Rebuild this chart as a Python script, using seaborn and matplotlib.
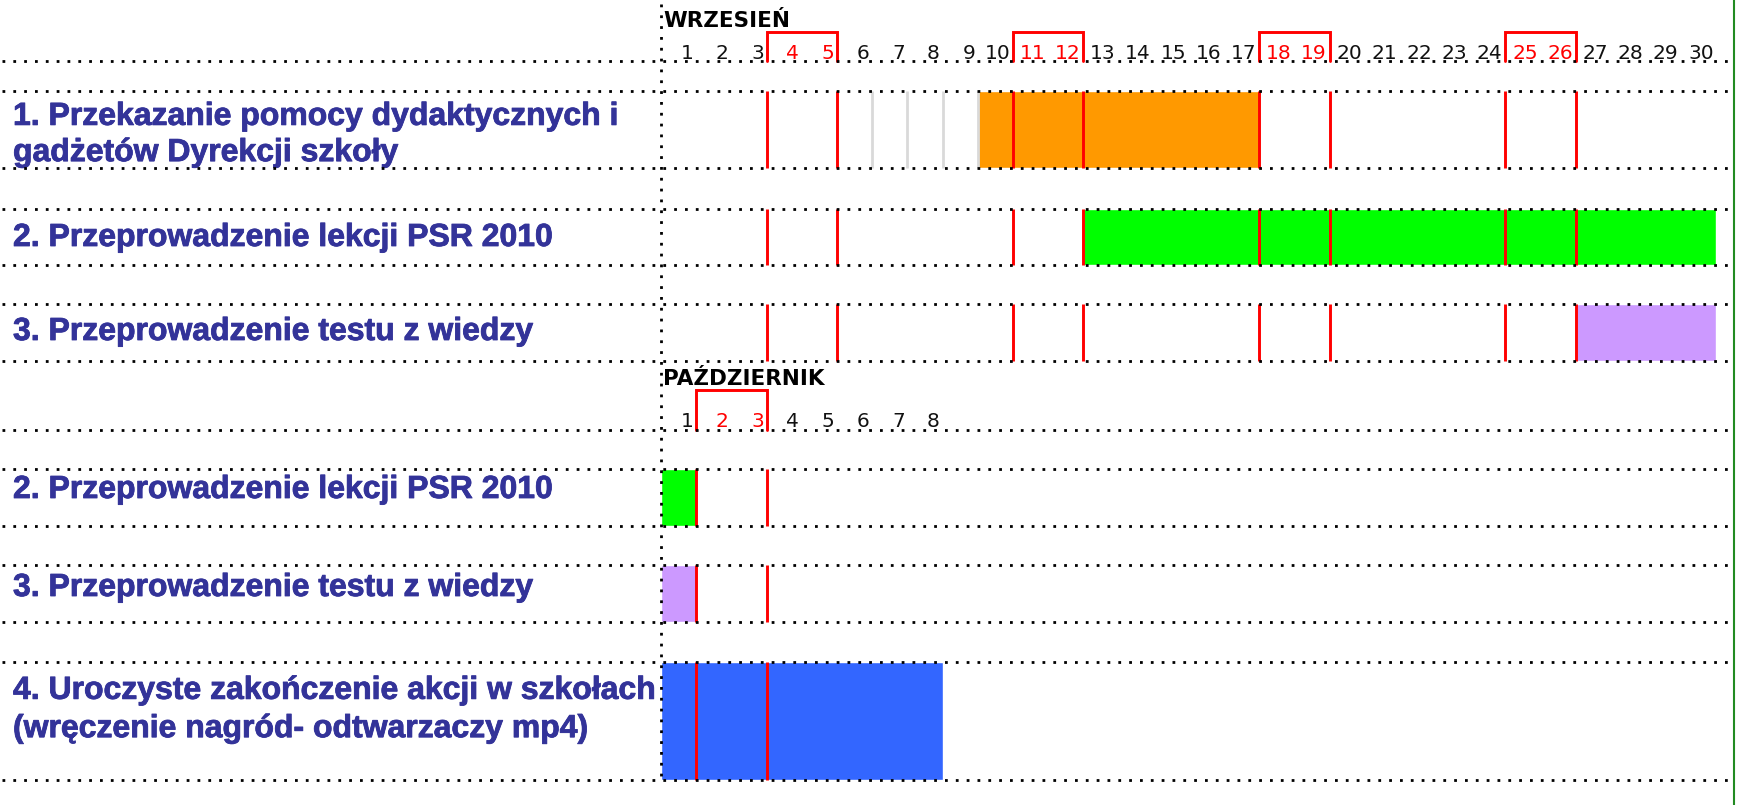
import numpy as np
import pandas as pd
from matplotlib import pyplot as plt
from matplotlib import patheffects
import seaborn as sns

# --- data ---
sept_days = list(range(1, 31))
sept_weekend = [4, 5, 11, 12, 18, 19, 25, 26]
oct_days = list(range(1, 9))
oct_weekend = [2, 3]

task_labels = [
    "1. Przekazanie pomocy dydaktycznych i\ngadżetów Dyrekcji szkoły",
    "2. Przeprowadzenie lekcji PSR 2010",
    "3. Przeprowadzenie testu z wiedzy",
    "2. Przeprowadzenie lekcji PSR 2010",
    "3. Przeprowadzenie testu z wiedzy",
    "4. Uroczyste zakończenie akcji w szkołach\n(wręczenie nagród- odtwarzaczy mp4)",
]
task_month = ["IX", "IX", "IX", "X", "X", "X"]
task_start = [10, 13, 27, 1, 1, 1]
task_end = [17, 30, 30, 1, 1, 8]
task_colors = ["#FF9900", "#00FF00", "#CC99FF", "#00FF00", "#CC99FF", "#3366FF"]
row1_grey_days = [6, 7, 8, 9]

# --- layout (pixels of the 1738x805 picture) ---
W, H = 1738, 805
X0 = 661.3      # left edge of day 1
DAY = 35.17     # width of one day
row_top = [91, 209, 304, 469, 565, 662]
row_bot = [168, 265, 361, 526, 622, 780]
label_y = [135, 238, 332, 490, 588, 710]
label_spacing = [1.27, 1.2, 1.2, 1.2, 1.2, 1.36]
dot_rows = [61, 91, 168, 209, 265, 304, 361, 430, 469, 526, 565, 622, 662, 780]
months = {
    "IX": dict(title="WRZESIEŃ", days=sept_days, weekend=sept_weekend,
               title_y=21, bracket_top=32, num_y=59, line_y=61),
    "X": dict(title="PAŹDZIERNIK", days=oct_days, weekend=oct_weekend,
              title_y=379, bracket_top=390, num_y=427, line_y=430),
}
RED = "#FF0000"
LABEL_BLUE = "#333399"


def px(x):
    return (x - X0) / DAY


def weekend_edges(weekend):
    edges = []
    for a, b in zip(weekend[::2], weekend[1::2]):
        edges += [a - 1, b]
    return edges


sns.set_theme(style="white")
plt.rcParams["font.family"] = ["DejaVu Sans"]

df = pd.DataFrame({
    "label": task_labels, "month": task_month,
    "start": task_start, "end": task_end, "color": task_colors,
    "top": row_top, "bot": row_bot,
})

fig = plt.figure(figsize=(W / 100, H / 100), dpi=100)
ax = fig.add_axes([0, 0, 1, 1])
ax.set_xlim(px(0), px(W))
ax.set_ylim(H, 0)
ax.axis("off")

# task bars
ax.barh(y=(df["top"] + df["bot"]) / 2, width=df["end"] - df["start"] + 1,
        left=df["start"] - 1, height=df["bot"] - df["top"],
        color=df["color"], zorder=1)

# light grey day separators in the first row
ax.vlines(row1_grey_days, row_top[0], row_bot[0], colors="#D9D9D9", lw=2, zorder=2)

# weekend red lines inside rows
for _, r in df.iterrows():
    edges = weekend_edges(months[r["month"]]["weekend"])
    ax.vlines(edges, r["top"], r["bot"], colors=RED, lw=2.1, zorder=3)

# labels on the left
bold_fx = [patheffects.withStroke(linewidth=0.6, foreground=LABEL_BLUE)]
for i, r in df.iterrows():
    ax.text(px(13), label_y[i], r["label"], color=LABEL_BLUE, fontsize=23,
            fontweight="bold", family=["Liberation Sans", "DejaVu Sans"],
            ha="left", va="center", linespacing=label_spacing[i],
            path_effects=bold_fx)

# month headers
for m in months.values():
    ax.text(px(663), m["title_y"], m["title"], fontsize=15.5, fontweight="bold",
            color="black", ha="left", va="center")
    for d in m["days"]:
        ax.text(d - 0.08, m["num_y"], str(d), fontsize=14.5, ha="right",
                va="baseline", color=RED if d in m["weekend"] else "#111111")
    for a, b in zip(m["weekend"][::2], m["weekend"][1::2]):
        ax.plot([a - 1, a - 1, b, b],
                [m["line_y"], m["bracket_top"], m["bracket_top"], m["line_y"]],
                color=RED, lw=2.1, solid_joinstyle="miter", zorder=3)

# dotted grid
dots = (0, (1, 2.9))
ax.hlines(dot_rows, px(2), px(1732), colors="black", lw=2, linestyles=dots, zorder=5)
ax.vlines(0, 4, 782, colors="black", lw=2, linestyles=dots, zorder=5)

# green frame line on the right
ax.vlines(px(1734), 0, H, colors="#228B22", lw=1.5, zorder=5)

plt.savefig("out.png", dpi=100)
